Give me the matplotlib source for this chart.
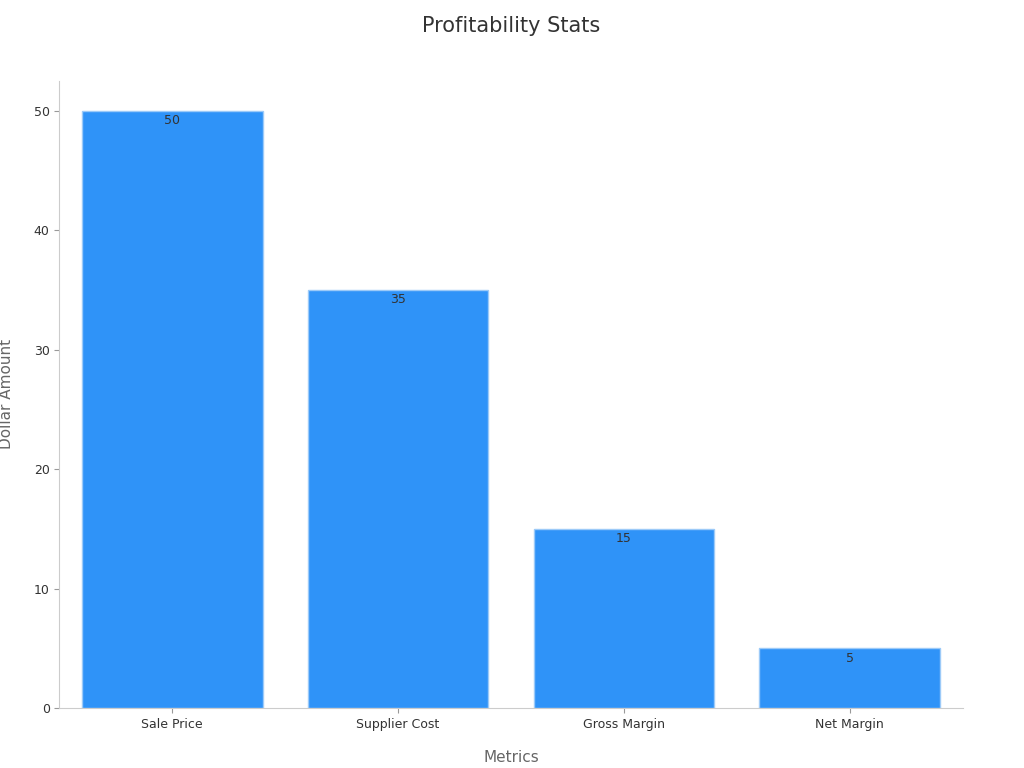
import matplotlib.pyplot as plt

categories = ["Sale Price", "Supplier Cost", "Gross Margin", "Net Margin"]
values = [50, 35, 15, 5]

fig, ax = plt.subplots(figsize=(10.24, 7.68), dpi=100)
fig.subplots_adjust(left=0.058, right=0.94, top=0.895, bottom=0.078)

bars = ax.bar(categories, values, width=0.8, color="#2f93f8", edgecolor="#9ccaf8", linewidth=1)
for b, v in zip(bars, values):
    ax.text(b.get_x() + b.get_width() / 2, v - 0.3, str(v), ha="center", va="top",
            fontsize=9, color="#333333")

ax.set_xlim(-0.5, 3.5)
ax.set_ylim(0, 52.5)
ax.set_title("Profitability Stats", fontsize=15, color="#333333", pad=35)
ax.set_xlabel("Metrics", fontsize=11, color="#666666", labelpad=14)
ax.set_ylabel("Dollar Amount", fontsize=11, color="#666666", labelpad=14)
ax.tick_params(labelsize=9, colors="#333333")
ax.tick_params(axis="both", color="#999999")
for s in ["top", "right"]:
    ax.spines[s].set_visible(False)
for s in ["left", "bottom"]:
    ax.spines[s].set_color("#cccccc")

fig.savefig("out.png")
